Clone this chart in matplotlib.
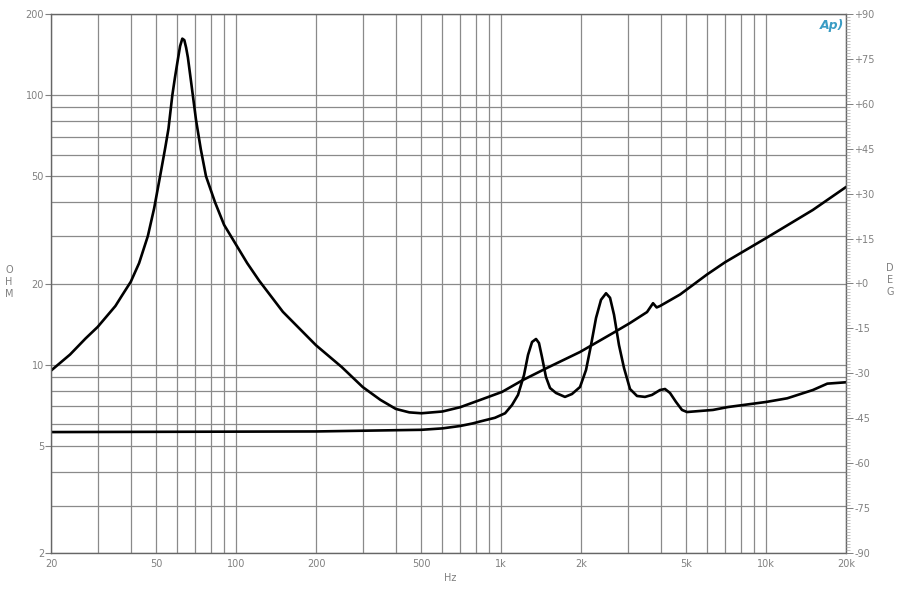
import matplotlib
matplotlib.use("Agg")
import matplotlib.pyplot as plt
from matplotlib.ticker import FixedLocator, MultipleLocator, NullFormatter

# impedance magnitude (resonance curve)
freq_a = [20, 23.6, 27, 30, 35, 37, 40, 43, 46.4, 49, 51.6, 54, 55.5, 57.4, 58.7, 59.8,
          61.4, 62.6, 63.7, 64.7, 65.7, 67.8, 70.5, 73.5, 76.9, 83.2, 90, 100, 110, 122,
          150, 200, 250, 300, 350, 400, 450, 500, 600, 700, 831, 1007, 1208, 1488, 1983,
          2641, 3062, 3550, 3740, 3860, 3973, 4728, 5978, 7000, 10000, 15000, 20000]
ohm_a = [9.5, 10.9, 12.5, 13.8, 16.5, 18, 20.3, 23.8, 30, 38, 50, 64, 75, 100, 116, 130,
         152, 162, 160, 150, 138, 109, 81, 63, 50, 40, 33, 27.8, 23.8, 20.5,
         15.7, 11.8, 9.8, 8.26, 7.4, 6.85, 6.65, 6.6, 6.7, 6.95, 7.39, 7.92, 8.77, 9.72,
         11.14, 13.1, 14.27, 15.67, 16.9, 16.3, 16.5, 18.2, 21.6, 24.0, 29.5, 37.5, 45.6]

# second trace
freq_b = [20, 200, 500, 600, 700, 780, 831, 947, 1034, 1098, 1157, 1219, 1262, 1307, 1353,
          1388, 1425, 1475, 1528, 1609, 1740, 1849, 1983, 2089, 2182, 2279, 2380, 2486,
          2574, 2665, 2782, 2906, 3062, 3254, 3488, 3706, 3973, 4150, 4334, 4566, 4810,
          5024, 5623, 6295, 7172, 10000, 12000, 15000, 17000, 20000]
ohm_b = [5.62, 5.65, 5.73, 5.8, 5.92, 6.05, 6.15, 6.35, 6.6, 7.08, 7.72, 9.15, 10.86,
         12.13, 12.45, 12.03, 10.67, 9.0, 8.19, 7.85, 7.59, 7.78, 8.26, 9.55, 11.82, 14.9,
         17.4, 18.4, 17.7, 15.3, 11.82, 9.72, 8.12, 7.65, 7.59, 7.72, 8.05, 8.12, 7.85,
         7.27, 6.79, 6.67, 6.73, 6.79, 6.96, 7.27, 7.5, 8.05, 8.5, 8.6]

x_grid = [20, 30, 40, 50, 60, 70, 80, 90, 100, 200, 300, 400, 500, 600, 700, 800, 900,
          1000, 2000, 3000, 4000, 5000, 6000, 7000, 8000, 9000, 10000, 20000]
x_labels = {20: '20', 50: '50', 100: '100', 200: '200', 500: '500', 1000: '1k',
            2000: '2k', 5000: '5k', 10000: '10k', 20000: '20k'}
y_grid = [2, 3, 4, 5, 6, 7, 8, 9, 10, 20, 30, 40, 50, 60, 70, 80, 90, 100, 200]
y_labels = [2, 5, 10, 20, 50, 100, 200]

txt = '#808080'
gridc = '#8a8a8a'

fig = plt.figure(figsize=(8.98, 6), dpi=100)
ax = fig.add_axes([51 / 898, 47 / 600, 795 / 898, 539 / 600])
ax.set_xscale('log')
ax.set_yscale('log')
ax.set_xlim(20, 20000)
ax.set_ylim(2, 200)

ax.plot(freq_a, ohm_a, color='black', lw=1.9, solid_joinstyle='round')
ax.plot(freq_b, ohm_b, color='black', lw=1.9, solid_joinstyle='round')

ax.xaxis.set_major_locator(FixedLocator(list(x_labels.keys())))
ax.xaxis.set_minor_locator(FixedLocator([v for v in x_grid if v not in x_labels]))
ax.set_xticklabels(list(x_labels.values()))
ax.xaxis.set_minor_formatter(NullFormatter())
ax.tick_params(axis='x', which='both', length=0, labelsize=7, colors=txt, pad=4)

ax.yaxis.set_major_locator(FixedLocator(y_labels))
ax.yaxis.set_minor_locator(FixedLocator([v for v in y_grid if v not in y_labels]))
ax.set_yticklabels([str(v) for v in y_labels])
ax.yaxis.set_minor_formatter(NullFormatter())
ax.tick_params(axis='y', which='major', length=4, width=0.8, labelsize=7, colors=txt, pad=1)
ax.tick_params(axis='y', which='minor', length=0)

ax.grid(True, which='both', color=gridc, lw=0.9)
for s in ax.spines.values():
    s.set_color('#666666')
    s.set_linewidth(1.0)

ax2 = ax.twinx()
ax2.set_ylim(-90, 90)
ax2.yaxis.set_major_locator(MultipleLocator(15))
ax2.yaxis.set_minor_locator(MultipleLocator(1))
ax2.set_yticks(range(-90, 91, 15))
ax2.set_yticklabels([('+%d' % v) if v >= 0 else str(v) for v in range(-90, 91, 15)])
ax2.tick_params(axis='y', which='major', length=5, width=0.7, labelsize=7, colors=txt, pad=1)
ax2.tick_params(axis='y', which='minor', length=3, width=0.5, colors='#aaaaaa')
for s in ax2.spines.values():
    s.set_visible(False)

fig.text(9 / 898, 1 - 282 / 600, 'O\nH\nM', fontsize=7, color=txt, ha='center',
         va='center', linespacing=1.2)
fig.text(890 / 898, 1 - 280 / 600, 'D\nE\nG', fontsize=7, color=txt, ha='center',
         va='center', linespacing=1.2)
fig.text(450 / 898, 1 - 578 / 600, 'Hz', fontsize=7, color=txt, ha='center', va='center')
fig.text(832 / 898, 1 - 25 / 600, 'Ap)', fontsize=9, color='#3a9cc4', ha='center',
         va='center', style='italic', fontweight='bold')

fig.savefig('out.png', dpi=100, facecolor='white')
